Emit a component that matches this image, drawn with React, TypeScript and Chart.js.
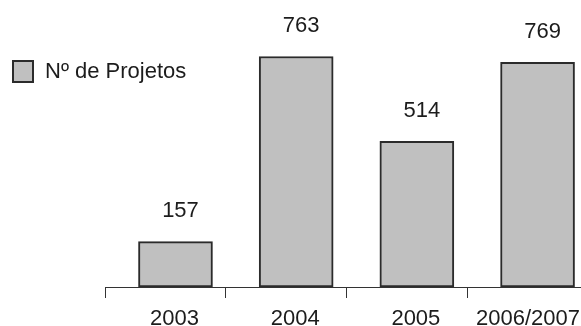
import React, { useEffect, useRef } from "react";
import { Chart, registerables } from "chart.js";

Chart.register(...registerables);

const categories = ["2003", "2004", "2005", "2006/2007"];
const valueLabels = ["157", "763", "514", "769"];
// bar heights as drawn in the picture
const barValues = [150, 763, 482, 744];
const seriesName = "Nº de Projetos";
const positions = [0, 1, 2, 3];
const boundaryTicks = [-0.584, 0.416, 1.416, 2.416];

const FONT = '22px "Liberation Sans", Arial, sans-serif';
const TEXT = "#1c1c1c";
const FILL = "#c0c0c0";
const EDGE = "#2b2b2b";

const overlay = {
  id: "overlay",
  afterDatasetsDraw(chart: any) {
    const ctx = chart.ctx;
    const meta = chart.getDatasetMeta(0);
    const xs = chart.scales.x;
    ctx.save();
    ctx.font = FONT;
    ctx.fillStyle = TEXT;
    ctx.textAlign = "center";
    ctx.textBaseline = "alphabetic";
    meta.data.forEach((bar: any, i: number) => {
      ctx.fillText(valueLabels[i], bar.x + 5, bar.y - 24.5);
      const w = ctx.measureText(categories[i]).width;
      const x = Math.min(bar.x - 1, chart.width - w / 2 - 1);
      ctx.fillText(categories[i], x, xs.bottom + 27);
    });
    // legend
    ctx.fillStyle = FILL;
    ctx.fillRect(13, 61, 20, 21);
    ctx.strokeStyle = EDGE;
    ctx.lineWidth = 2;
    ctx.strokeRect(13, 61, 20, 21);
    ctx.fillStyle = TEXT;
    ctx.textAlign = "left";
    ctx.fillText(chart.data.datasets[0].label, 45, 78);
    ctx.restore();
  },
};

export default function App() {
  const ref = useRef<HTMLCanvasElement>(null);
  useEffect(() => {
    if (!ref.current) return;
    const chart = new Chart(ref.current, {
      type: "bar",
      data: {
        datasets: [
          {
            label: seriesName,
            data: positions.map((p, i) => ({ x: p, y: barValues[i] })),
            backgroundColor: FILL,
            borderColor: EDGE,
            borderWidth: 2,
            borderSkipped: false,
            barThickness: 74,
          },
        ],
      },
      options: {
        responsive: false,
        animation: false,
        layout: { padding: { left: 105, right: 0, top: 0, bottom: 28 } },
        plugins: { legend: { display: false }, tooltip: { enabled: false } },
        scales: {
          x: {
            type: "linear",
            min: -0.584,
            max: 3.36,
            offset: false,
            afterBuildTicks: (s: any) => {
              s.ticks = boundaryTicks.map((v) => ({ value: v }));
            },
            ticks: { display: false },
            grid: {
              display: true,
              offset: false,
              drawOnChartArea: false,
              drawTicks: true,
              tickLength: 11,
              color: "#333333",
              tickColor: "#333333",
              lineWidth: 1,
            },
            border: { display: true, color: "#333333", width: 1 },
          },
          y: {
            display: false,
            min: 0,
            max: 950,
          },
        },
      },
      plugins: [overlay],
    });
    return () => chart.destroy();
  }, []);
  return (
    <div style={{ position: "absolute", left: 0, top: 0, width: 581, height: 326 }}>
      <canvas ref={ref} width={581} height={326} style={{ display: "block" }} />
    </div>
  );
}
